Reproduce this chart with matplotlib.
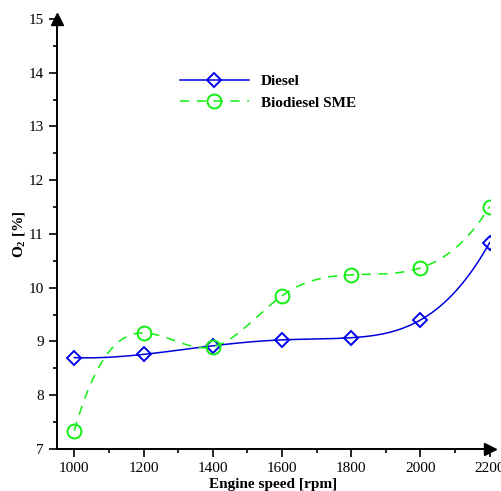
import matplotlib.pyplot as plt
import numpy as np
from matplotlib.ticker import MultipleLocator

speed = [1000, 1200, 1400, 1600, 1800, 2000, 2200]
o2_diesel = [8.70, 8.76, 8.92, 9.03, 9.07, 9.40, 10.84]
o2_sme = [7.34, 9.16, 8.90, 9.85, 10.24, 10.37, 11.51]


def smooth_line(x, y, n=300):
    # not-a-knot cubic spline, only used to draw the smooth line
    x = np.asarray(x, float)
    y = np.asarray(y, float)
    k = len(x)
    h = np.diff(x)
    A = np.zeros((k, k))
    b = np.zeros(k)
    A[0, 0], A[0, 1], A[0, 2] = h[1], -(h[0] + h[1]), h[0]
    A[-1, -3], A[-1, -2], A[-1, -1] = h[-1], -(h[-2] + h[-1]), h[-2]
    for i in range(1, k - 1):
        A[i, i - 1] = h[i - 1]
        A[i, i] = 2 * (h[i - 1] + h[i])
        A[i, i + 1] = h[i]
        b[i] = 3 * ((y[i + 1] - y[i]) / h[i] - (y[i] - y[i - 1]) / h[i - 1])
    c = np.linalg.solve(A, b)
    xs = np.linspace(x[0], x[-1], n)
    idx = np.clip(np.searchsorted(x, xs) - 1, 0, k - 2)
    dx = xs - x[idx]
    hi = h[idx]
    bb = (y[idx + 1] - y[idx]) / hi - hi * (2 * c[idx] + c[idx + 1]) / 3
    d = (c[idx + 1] - c[idx]) / (3 * hi)
    ys = y[idx] + bb * dx + c[idx] * dx ** 2 + d * dx ** 3
    return xs, ys


plt.rcParams['font.family'] = ['Liberation Serif', 'DejaVu Serif']
plt.rcParams['mathtext.fontset'] = 'custom'
plt.rcParams['mathtext.bf'] = 'Liberation Serif:bold'
plt.rcParams['mathtext.rm'] = 'Liberation Serif'

fig = plt.figure(figsize=(5.02, 4.91), dpi=100)
ax = fig.add_axes([0.1135, 0.0855, 0.862, 0.876])

xs, ys = smooth_line(speed, o2_diesel)
ax.plot(xs, ys, color='#0000dd', lw=1.1)
ax.plot(speed, o2_diesel, 'D', ms=7, mfc='none', mec='#0000ee', mew=1.4)
ax.plot([], [], color='#0000dd', lw=1.1, marker='D', ms=7, mfc='none',
        mec='#0000ee', mew=1.4, label='Diesel')

xs, ys = smooth_line(speed, o2_sme)
ax.plot(xs, ys, color='#11ee11', lw=1.1, ls=(0, (6, 5)))
ax.plot(speed, o2_sme, 'o', ms=10, mfc='none', mec='#11ee11', mew=1.4)
ax.plot([], [], color='#11ee11', lw=1.1, ls=(0, (6, 5)), marker='o', ms=10,
        mfc='none', mec='#11ee11', mew=1.4, label='Biodiesel SME')

ax.set_xlim(950, 2200)
ax.set_ylim(7, 15)
ax.xaxis.set_minor_locator(MultipleLocator(100))
ax.yaxis.set_major_locator(MultipleLocator(1))
ax.yaxis.set_minor_locator(MultipleLocator(0.5))
ax.set_xticks(speed)
ax.tick_params(which='major', length=6, width=1.2, labelsize=11)
ax.tick_params(which='minor', length=3, width=1.2)

for s in ['top', 'right']:
    ax.spines[s].set_visible(False)
for s in ['left', 'bottom']:
    ax.spines[s].set_linewidth(1.4)

ax.plot(1, 0, '>', color='k', ms=9, transform=ax.transAxes, clip_on=False)
ax.plot(0, 1, '^', color='k', ms=9, transform=ax.transAxes, clip_on=False)

ax.set_xlabel('Engine speed [rpm]', fontsize=11, fontweight='bold', labelpad=2)
ax.set_ylabel(r'$\mathbf{O_2}$ [%]', fontsize=11, fontweight='bold', labelpad=1)

ax.legend(loc='upper left', bbox_to_anchor=(0.27, 0.885), frameon=False,
          prop={'weight': 'bold', 'size': 11}, handlelength=4.5,
          borderaxespad=0, labelspacing=0.5)

fig.savefig('out.png', dpi=100)
